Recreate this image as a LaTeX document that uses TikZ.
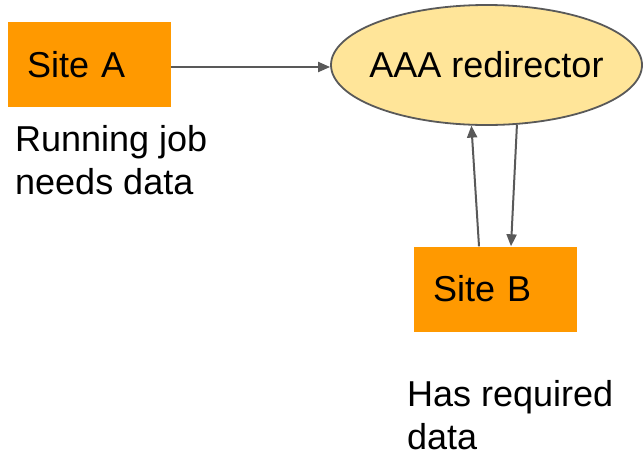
\documentclass[tikz,border=0pt]{standalone}
\usepackage{fontspec}
\setmainfont{Liberation Sans}
\usetikzlibrary{arrows.meta,shapes.geometric}
\definecolor{siteorange}{HTML}{FF9900}
\definecolor{redirfill}{HTML}{FFE599}
\definecolor{linegray}{HTML}{595959}
\begin{document}
\begin{tikzpicture}[x=1pt,y=-1pt,
    font=\fontsize{36}{43}\selectfont,
    sitebox/.style={rectangle,fill=siteorange,minimum width=163pt,minimum height=85pt,
        text width=125pt,align=left,inner xsep=19pt,inner ysep=0pt},
    redirbox/.style={ellipse,draw=linegray,line width=1.8pt,fill=redirfill,
        minimum width=311pt,minimum height=120pt,inner xsep=-8pt,inner ysep=0pt},
    note/.style={anchor=north west,align=left,inner sep=0pt},
    link/.style={draw=linegray,line width=2pt,-{Triangle[length=12pt,width=10pt]}}]

\useasboundingbox (0,0) rectangle (644,456);

	\node[sitebox] (siteA) at (89.5,64.5) {Site A};
	\node[redirbox] (redir) at (486.5,65) {AAA redirector};
	\node[sitebox] (siteB) at (495.5,289) {Site B};

	\node[note] (needA) at (15,125) {Running job\\needs data};
	\node[note] (hasB) at (407,380) {Has required\\data};

	\draw[link,transform canvas={yshift=-2.5pt}] (siteA.east) -- (redir.west |- siteA.east);
	\draw[link] ([xshift=-16.5pt]siteB.north) -- (redir.256);
	\draw[link] (redir.297) -- ([xshift=15.5pt]siteB.north);

\end{tikzpicture}
\end{document}
